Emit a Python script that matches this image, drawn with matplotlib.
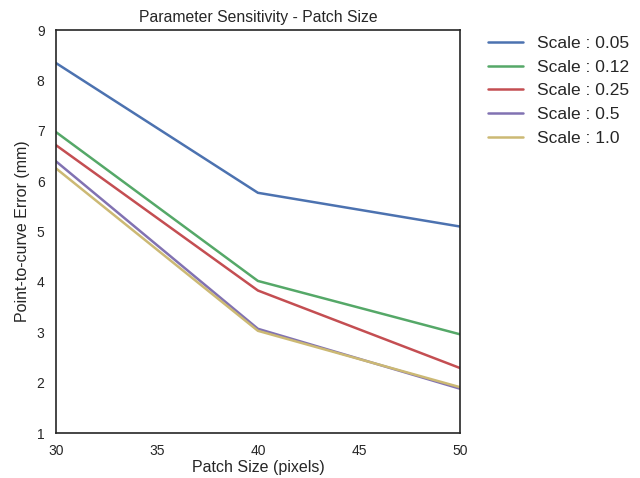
import matplotlib
matplotlib.use("Agg")
import matplotlib.pyplot as plt
import seaborn as sns

# patch sizes and point-to-curve error per scale
patch_sizes = [30, 40, 50]
scales = ["0.05", "0.12", "0.25", "0.5", "1.0"]
err_005 = [8.35, 5.77, 5.10]
err_012 = [6.98, 4.02, 2.96]
err_025 = [6.72, 3.83, 2.29]
err_05 = [6.40, 3.07, 1.88]
err_10 = [6.26, 3.03, 1.91]
errors = [err_005, err_012, err_025, err_05, err_10]

colors = ["#4C72B0", "#55A868", "#C44E52", "#8172B2", "#CCB974"]

sns.set_style("white")
plt.rcParams["font.family"] = ["Liberation Sans", "DejaVu Sans"]

fig = plt.figure(figsize=(6.4, 4.78), dpi=100)
ax = fig.add_axes([0.087, 0.094, 0.632, 0.843])

for s, e, c in zip(scales, errors, colors):
    ax.plot(patch_sizes, e, color=c, linewidth=1.8, label="Scale : " + s)

ax.set_xlim(30, 50)
ax.set_ylim(1, 9)
ax.set_xticks([30, 35, 40, 45, 50])
ax.set_yticks(range(1, 10))
ax.tick_params(labelsize=10, colors="#262626", length=0, pad=8)
for sp in ax.spines.values():
    sp.set_color("#262626")
    sp.set_linewidth(1.2)

ax.set_title("Parameter Sensitivity - Patch Size", fontsize=11.3, color="#262626")
ax.set_xlabel("Patch Size (pixels)", fontsize=11.5, color="#262626", labelpad=1)
ax.set_ylabel("Point-to-curve Error (mm)", fontsize=11.5, color="#262626", labelpad=5)

ax.legend(loc="upper left", bbox_to_anchor=(1.03, 1.025), frameon=False,
          fontsize=12.5, handlelength=2.0)

fig.savefig("out.png", dpi=100)
